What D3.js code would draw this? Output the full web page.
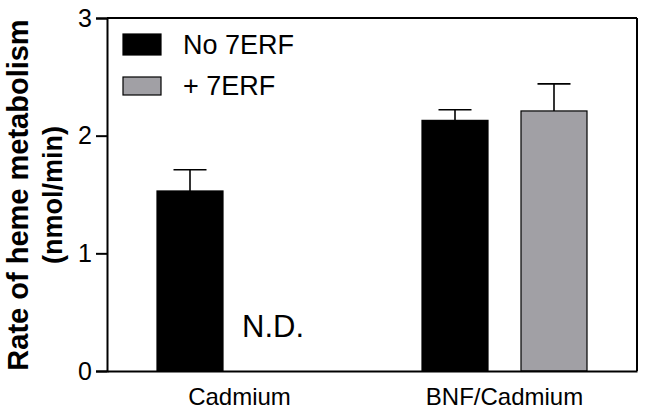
<!DOCTYPE html>
<html>
<head>
<meta charset="utf-8">
<script src="https://cdn.jsdelivr.net/npm/d3@7"></script>
<style>
  html, body { margin: 0; padding: 0; background: #fff; }
  svg { display: block; font-family: "Liberation Sans", Arial, Helvetica, sans-serif; }
</style>
</head>
<body>
<svg id="chart" width="645" height="411"></svg>
<script>
// ---- data ----
const categories = ["Cadmium", "BNF/Cadmium"];
const seriesNames = ["No 7ERF", "+ 7ERF"];
const seriesColors = ["#000000", "#a1a0a5"];
const meanNo7ERF = [1.53, 2.13];
const errNo7ERF = [0.18, 0.09];
const meanPlus7ERF = [null, 2.21];   // null = not detected
const errPlus7ERF = [null, 0.23];
const yTicks = [0, 1, 2, 3];
const yTitle1 = "Rate of heme metabolism";
const yTitle2 = "(nmol/min)";
const ndLabel = "N.D.";

const means = [meanNo7ERF, meanPlus7ERF];
const errs = [errNo7ERF, errPlus7ERF];

const svg = d3.select("#chart");
const mLeft = 107, mRight = 637, mTop = 18, mBottom = 371;

const x0 = d3.scaleBand().domain(categories).range([mLeft, mRight]).padding(0);
const groupW = 165;
const x1 = d3.scaleBand().domain(seriesNames).range([0, groupW]).paddingInner(1/3).paddingOuter(0);
const y = d3.scaleLinear().domain([0, 3]).range([mBottom, mTop]);

const groupStart = c => x0(c) + (x0.bandwidth() - groupW) / 2;

// bars
seriesNames.forEach((s, si) => {
  categories.forEach((c, ci) => {
    const v = means[si][ci];
    const bx = groupStart(c) + x1(s);
    const bw = x1.bandwidth();
    if (v == null) {
      svg.append("text")
        .attr("x", bx + bw / 2 - 16)
        .attr("y", 337)
        .attr("text-anchor", "middle")
        .attr("font-size", 31)
        .attr("fill", "#000")
        .text(ndLabel);
      return;
    }
    const e = errs[si][ci];
    svg.append("line")
      .attr("x1", bx + bw / 2).attr("x2", bx + bw / 2)
      .attr("y1", y(v)).attr("y2", y(v + e))
      .attr("stroke", "#000").attr("stroke-width", 1.6);
    svg.append("line")
      .attr("x1", bx + bw / 4).attr("x2", bx + 3 * bw / 4)
      .attr("y1", y(v + e)).attr("y2", y(v + e))
      .attr("stroke", "#000").attr("stroke-width", 1.6);
    svg.append("rect")
      .attr("x", bx).attr("y", y(v))
      .attr("width", bw).attr("height", y(0) - y(v))
      .attr("fill", seriesColors[si])
      .attr("stroke", "#000").attr("stroke-width", 1.2);
  });
});

// frame (top & right)
svg.append("line").attr("x1", mLeft).attr("x2", mRight).attr("y1", mTop).attr("y2", mTop)
  .attr("stroke", "#000").attr("stroke-width", 2);
svg.append("line").attr("x1", mRight).attr("x2", mRight).attr("y1", mTop).attr("y2", mBottom)
  .attr("stroke", "#000").attr("stroke-width", 2);

// y axis
const yAxis = d3.axisLeft(y).tickValues(yTicks).tickFormat(d3.format("d")).tickSize(11).tickPadding(4);
const gy = svg.append("g").attr("transform", `translate(${mLeft},0)`).call(yAxis);
gy.select(".domain").attr("stroke", "#000").attr("stroke-width", 2);
gy.selectAll(".tick line").attr("stroke", "#000").attr("stroke-width", 2);
gy.selectAll(".tick text").attr("font-size", 25).attr("fill", "#000")
  .attr("font-family", "Liberation Sans, Arial, sans-serif");

// x axis
const xAxis = d3.axisBottom(x0).tickSize(0).tickPadding(17);
const gx = svg.append("g").attr("transform", `translate(0,${mBottom})`).call(xAxis);
gx.select(".domain").attr("stroke", "#000").attr("stroke-width", 2);
gx.selectAll(".tick text").attr("font-size", 24).attr("fill", "#000")
  .attr("font-family", "Liberation Sans, Arial, sans-serif");

// y title
const ty = svg.append("text")
  .attr("transform", "translate(0,195) rotate(-90)")
  .attr("text-anchor", "middle")
  .attr("font-weight", "bold")
  .attr("font-size", 29)
  .attr("fill", "#000");
ty.append("tspan").attr("x", 0).attr("y", 28).text(yTitle1);
ty.append("tspan").attr("x", 0).attr("y", 62).attr("font-size", 27).text(yTitle2);

// legend
const legendY = [34, 77];
seriesNames.forEach((s, i) => {
  svg.append("rect")
    .attr("x", 123).attr("y", legendY[i])
    .attr("width", 38).attr("height", i === 0 ? 21 : 18)
    .attr("fill", seriesColors[i])
    .attr("stroke", "#000").attr("stroke-width", 1.2);
  svg.append("text")
    .attr("x", 183).attr("y", i === 0 ? 54 : 95)
    .attr("font-size", 27).attr("fill", "#000")
    .text(s);
});
</script>
</body>
</html>
